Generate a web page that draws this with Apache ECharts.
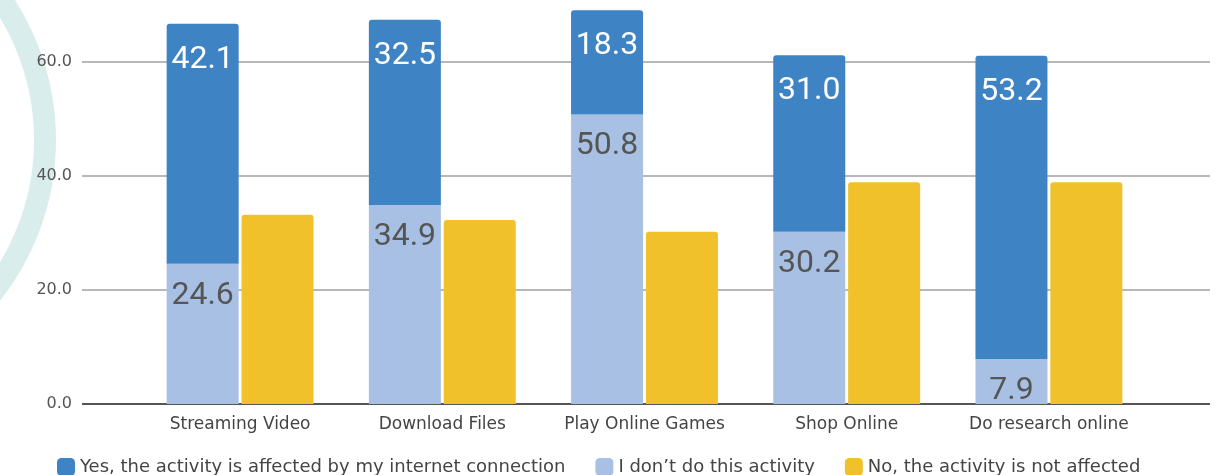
<!DOCTYPE html>
<html>
<head>
<meta charset="utf-8">
<script src="https://cdn.jsdelivr.net/npm/echarts@6/dist/echarts.min.js"></script>
<style>
  html, body { margin: 0; padding: 0; background: #fff; }
  #main { width: 1228px; height: 475px; }
</style>
</head>
<body>
<div id="main"></div>
<script>
var categories = ['Streaming Video', 'Download Files', 'Play Online Games', 'Shop Online', 'Do research online'];
var yesValues = [42.1, 32.5, 18.3, 31.0, 53.2];
var dontValues = [24.6, 34.9, 50.8, 30.2, 7.9];
var noValues = [33.2, 32.3, 30.2, 38.9, 38.9];
var seriesNames = [
    'Yes, the activity is affected by my internet connection',
    'I don\u2019t do this activity',
    'No, the activity is not affected'
];
var yTicks = [0, 20, 40, 60];

var myChart = echarts.init(document.getElementById('main'));

/* 数值标签 */
function valueLabel(color, dist) {
    return {
        show: true,
        position: 'insideTop',
        distance: dist,
        color: color,
        fontFamily: 'Roboto',
        fontSize: 32,
        formatter: function (p) { return p.value.toFixed(1); }
    };
}

var option = {
    animation: false,
    textStyle: { fontFamily: 'DejaVu Sans' },
    graphic: [{
        type: 'circle',
        shape: { cx: -203, cy: 140, r: 248 },
        style: { fill: 'none', stroke: 'rgba(170,215,212,0.45)', lineWidth: 22 },
        z: -10
    }],
    legend: {
        top: 453,
        left: 52,
        itemWidth: 18,
        itemHeight: 18,
        itemGap: 30,
        icon: 'roundRect',
        data: seriesNames,
        textStyle: { fontSize: 18, color: '#444', fontFamily: 'DejaVu Sans' }
    },
    grid: [
        // 背景网格: 轴标签与分割线
        { left: 82, right: 18, top: 62, bottom: 71 },
        // 柱子区域
        { left: 139, right: 78, top: 5, bottom: 71 }
    ],
    xAxis: [{
        gridIndex: 0,
        type: 'value',
        min: 0, max: 1,
        show: true,
        axisLine: { show: false },
        axisTick: { show: false },
        axisLabel: { show: false },
        splitLine: { show: false }
    }, {
        gridIndex: 1,
        type: 'category',
        data: categories,
        axisLine: { show: false },
        axisTick: { show: false },
        axisLabel: { interval: 0, fontSize: 17, color: '#444', margin: 12, fontFamily: 'DejaVu Sans' }
    }],
    yAxis: [{
        gridIndex: 0,
        type: 'value',
        min: yTicks[0],
        max: yTicks[yTicks.length - 1],
        interval: 20,
        axisLine: { show: false },
        axisTick: { show: false },
        axisLabel: {
            fontSize: 16, color: '#555', margin: 10,
            formatter: function (v) { return v.toFixed(1); }
        },
        splitLine: { lineStyle: { color: '#a0a0a0', width: 1.5 } }
    }, {
        gridIndex: 1,
        type: 'value',
        min: 0, max: 70,
        show: false
    }],
    series: [{
        // 0 基线
        type: 'line',
        xAxisIndex: 0, yAxisIndex: 0,
        data: [[0, 0], [1, 0]],
        symbol: 'none',
        lineStyle: { color: '#555', width: 2 },
        silent: true,
        z: 1
    }, {
        name: seriesNames[1],
        type: 'bar',
        xAxisIndex: 1, yAxisIndex: 1,
        stack: 'a',
        barWidth: 72,
        barGap: '4%',
        data: dontValues,
        itemStyle: { color: '#a8c0e4' },
        label: valueLabel('#555', 16),
        z: 3
    }, {
        name: seriesNames[0],
        type: 'bar',
        xAxisIndex: 1, yAxisIndex: 1,
        stack: 'a',
        barWidth: 72,
        data: yesValues,
        itemStyle: { color: '#3e83c4', borderRadius: [3, 3, 0, 0] },
        label: valueLabel('#fff', 20),
        z: 3
    }, {
        name: seriesNames[2],
        type: 'bar',
        xAxisIndex: 1, yAxisIndex: 1,
        barWidth: 72,
        data: noValues,
        itemStyle: { color: '#f0c12a', borderRadius: [3, 3, 0, 0] },
        z: 3
    }]
};
myChart.setOption(option);
</script>
</body>
</html>
